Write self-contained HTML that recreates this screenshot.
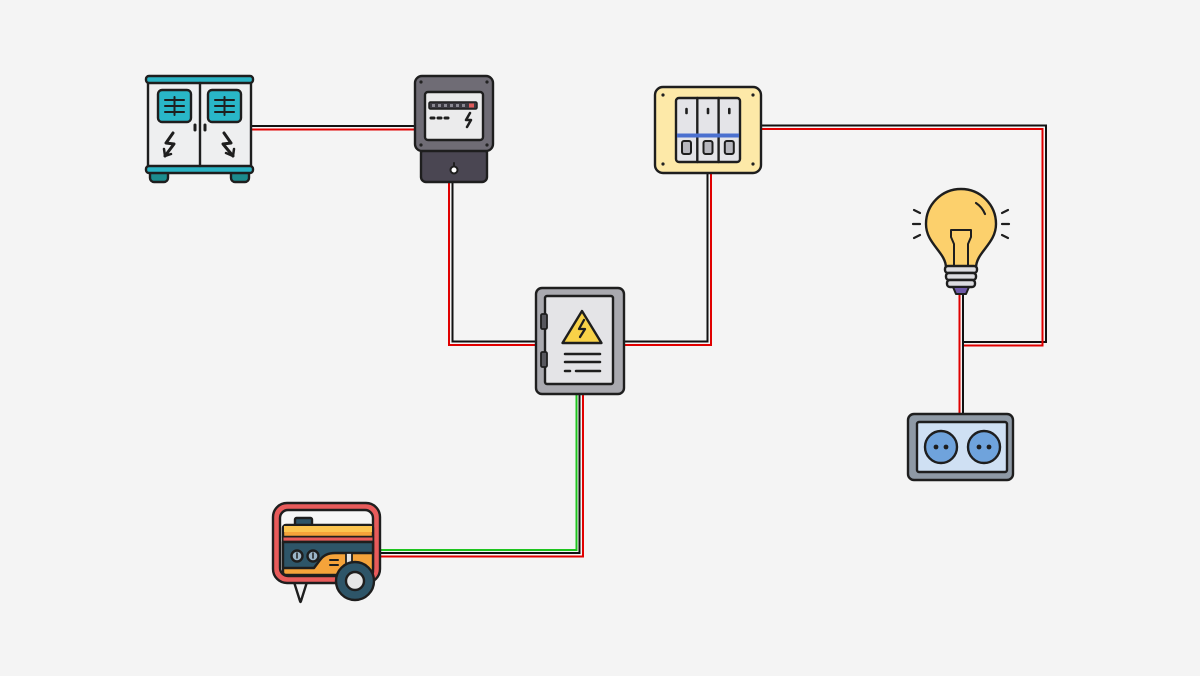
<!DOCTYPE html>
<html><head><meta charset="utf-8"><style>
html,body{margin:0;padding:0;background:#f4f4f4;}
svg{display:block;}
</style></head><body>
<svg width="1200" height="676" viewBox="0 0 1200 676" xmlns="http://www.w3.org/2000/svg">
<rect width="1200" height="676" fill="#f4f4f4"/>

<!-- WIRES -->
<g fill="none" stroke-width="2">
  <!-- cabinet -> meter -->
  <line x1="250" y1="126" x2="418" y2="126" stroke="#111"/>
  <line x1="250" y1="129.5" x2="418" y2="129.5" stroke="#e00000"/>
  <!-- meter -> panel -->
  <polyline points="452.5,180 452.5,341.5 540,341.5" stroke="#111"/>
  <polyline points="449,180 449,345 540,345" stroke="#e00000"/>
  <!-- panel -> breaker -->
  <polyline points="622,341.5 707.5,341.5 707.5,170" stroke="#111"/>
  <polyline points="622,345 711,345 711,170" stroke="#e00000"/>
  <!-- breaker -> right loop -->
  <polyline points="758,125.5 1046,125.5 1046,342 963,342" stroke="#111"/>
  <polyline points="758,129 1042.5,129 1042.5,345.5 963,345.5" stroke="#e00000"/>
  <!-- bulb -> socket -->
  <line x1="959.5" y1="294" x2="959.5" y2="416" stroke="#e00000"/>
  <line x1="963" y1="294" x2="963" y2="416" stroke="#111"/>
  <!-- generator -> panel -->
  <polyline points="376,550 576.5,550 576.5,391" stroke="#1ec41e"/>
  <polyline points="376,553 579.5,553 579.5,391" stroke="#111"/>
  <polyline points="376,556.5 583,556.5 583,391" stroke="#e00000"/>
</g>

<!-- CABINET -->
<g stroke="#1e1e1e" stroke-width="2.4" stroke-linejoin="round" stroke-linecap="round">
  <rect x="150" y="168" width="18" height="14" rx="4" fill="#1c8c8e"/>
  <rect x="231" y="168" width="18" height="14" rx="4" fill="#1c8c8e"/>
  <rect x="148" y="80" width="103" height="89" fill="#eeeff0"/>
  <rect x="146" y="76" width="107" height="7" rx="3" fill="#2ab3c4"/>
  <rect x="146" y="166" width="107" height="7" rx="3" fill="#2ab3c4"/>
  <line x1="200" y1="83" x2="200" y2="166"/>
  <rect x="158" y="90" width="33" height="32" rx="4" fill="#29b6c8"/>
  <rect x="208" y="90" width="33" height="32" rx="4" fill="#29b6c8"/>
  <g stroke-width="2">
    <line x1="165" y1="100" x2="184" y2="100"/><line x1="165" y1="106" x2="184" y2="106"/><line x1="165" y1="112" x2="184" y2="112"/>
    <line x1="174.5" y1="97" x2="174.5" y2="115"/>
    <line x1="215" y1="100" x2="234" y2="100"/><line x1="215" y1="106" x2="234" y2="106"/><line x1="215" y1="112" x2="234" y2="112"/>
    <line x1="224.5" y1="97" x2="224.5" y2="115"/>
  </g>
  <line x1="195" y1="125" x2="195" y2="130" stroke-width="3"/>
  <line x1="205" y1="125" x2="205" y2="130" stroke-width="3"/>
  <polyline points="173,133 166,143 174,144 165,156" fill="none" stroke-width="3"/>
  <polyline points="164,149 165,156 171,154" fill="none" stroke-width="2.5"/>
  <polyline points="224,133 231,143 223,144 233,156" fill="none" stroke-width="3"/>
  <polyline points="226,153 233,156 234,149" fill="none" stroke-width="2.5"/>
</g>

<!-- METER -->
<g stroke="#1e1e1e" stroke-width="2.4" stroke-linejoin="round" stroke-linecap="round">
  <rect x="421" y="148" width="66" height="34" rx="5" fill="#4a4652"/>
  <rect x="415" y="76" width="78" height="75" rx="7" fill="#6f6c75"/>
  <rect x="425" y="92" width="58" height="48" rx="3" fill="#ebebec"/>
  <rect x="429" y="102" width="48" height="7" rx="1.5" fill="#3a3840" stroke-width="1.5"/>
  <g stroke="none" fill="#8a8892">
    <rect x="432" y="104" width="3" height="3"/><rect x="438" y="104" width="3" height="3"/><rect x="444" y="104" width="3" height="3"/>
    <rect x="450" y="104" width="3" height="3"/><rect x="456" y="104" width="3" height="3"/><rect x="462" y="104" width="3" height="3"/>
    <rect x="469" y="103.5" width="5" height="4" fill="#e05a5a"/>
  </g>
  <g stroke-width="3"><line x1="431" y1="118" x2="434" y2="118"/><line x1="438" y1="118" x2="441" y2="118"/><line x1="445" y1="118" x2="448" y2="118"/></g>
  <polyline points="470,113 466,120 471,120 467,127" fill="none" stroke-width="2.5"/>
  <g stroke="none" fill="#222"><circle cx="421" cy="82" r="1.6"/><circle cx="487" cy="82" r="1.6"/><circle cx="421" cy="145" r="1.6"/><circle cx="487" cy="145" r="1.6"/></g>
  <circle cx="454" cy="170" r="3.5" fill="#fff" stroke-width="2"/>
  <line x1="454" y1="163" x2="454" y2="166" stroke-width="2"/>
</g>

<!-- BREAKER BOX -->
<g stroke="#1e1e1e" stroke-width="2.4" stroke-linejoin="round" stroke-linecap="round">
  <rect x="655" y="87" width="106" height="86" rx="8" fill="#fde9a8"/>
  <g stroke="none" fill="#222"><circle cx="663" cy="95" r="1.6"/><circle cx="753" cy="95" r="1.6"/><circle cx="663" cy="164" r="1.6"/><circle cx="753" cy="164" r="1.6"/></g>
  <rect x="676" y="98" width="64" height="64" rx="3" fill="#e4e4e8"/>
  <line x1="697.3" y1="98" x2="697.3" y2="162"/>
  <line x1="718.6" y1="98" x2="718.6" y2="162"/>
  <rect x="677" y="133.5" width="62" height="4" fill="#4b70cf" stroke="none"/>
  <g stroke-width="2.6"><line x1="686.5" y1="109" x2="686.5" y2="113"/><line x1="708" y1="109" x2="708" y2="113"/><line x1="729.3" y1="109" x2="729.3" y2="113"/></g>
  <g fill="#b7b7be" stroke-width="2"><rect x="682" y="141" width="9" height="13" rx="2"/><rect x="703.5" y="141" width="9" height="13" rx="2"/><rect x="724.8" y="141" width="9" height="13" rx="2"/></g>
</g>

<!-- DISTRIBUTION PANEL -->
<g stroke="#1e1e1e" stroke-width="2.4" stroke-linejoin="round" stroke-linecap="round">
  <rect x="536" y="288" width="88" height="106" rx="6" fill="#a9a9af"/>
  <rect x="545" y="296" width="68" height="88" rx="2" fill="#e4e4e7"/>
  <rect x="541" y="314" width="6" height="15" rx="1.5" fill="#58585e" stroke-width="1.8"/>
  <rect x="541" y="352" width="6" height="15" rx="1.5" fill="#58585e" stroke-width="1.8"/>
  <path d="M582,311 L601.5,343 L562.5,343 Z" fill="#f8d248"/>
  <polyline points="584,320 579,329 585,329 580,337" fill="none" stroke-width="2.3"/>
  <g stroke-width="2.5">
    <line x1="565" y1="354" x2="600" y2="354"/>
    <line x1="565" y1="362" x2="600" y2="362"/>
    <line x1="565" y1="371" x2="570" y2="371"/>
    <line x1="576" y1="371" x2="600" y2="371"/>
  </g>
</g>

<!-- LIGHT BULB -->
<g stroke="#1e1e1e" stroke-width="2.4" stroke-linejoin="round" stroke-linecap="round">
  <path d="M946,268 C946,252 926,244 926,224 A35,35 0 1 1 996,224 C996,244 976,252 976,268 Z" fill="#fcd06c"/>
  <path d="M976,203 A24,24 0 0 1 985,214" fill="none" stroke-width="2.2"/>
  <path d="M954,266 L954,244 L951,237 L951,230 L971,230 L971,237 L968,244 L968,266" fill="none" stroke-width="2"/>
  <rect x="945" y="266" width="32" height="7" rx="3" fill="#dcdce0"/>
  <rect x="946" y="273" width="30" height="7" rx="3" fill="#dcdce0"/>
  <rect x="947" y="280" width="28" height="7" rx="3" fill="#dcdce0"/>
  <path d="M953,287 L969,287 L966,294 L956,294 Z" fill="#6e5aa8" stroke-width="2"/>
  <g stroke-width="2.2">
    <line x1="914" y1="210" x2="920" y2="213"/>
    <line x1="913" y1="224" x2="920" y2="224"/>
    <line x1="914" y1="238" x2="920" y2="235"/>
    <line x1="1002" y1="213" x2="1008" y2="210"/>
    <line x1="1002" y1="224" x2="1009" y2="224"/>
    <line x1="1002" y1="235" x2="1008" y2="238"/>
  </g>
</g>

<!-- SOCKET -->
<g stroke="#1e1e1e" stroke-width="2.4" stroke-linejoin="round">
  <rect x="908" y="414" width="105" height="66" rx="6" fill="#8e99a5"/>
  <rect x="917" y="422" width="90" height="50" rx="2" fill="#cfe0f3"/>
  <circle cx="941" cy="447" r="16" fill="#6fa3dc"/>
  <circle cx="984" cy="447" r="16" fill="#6fa3dc"/>
  <g stroke="none" fill="#1e1e1e"><circle cx="936" cy="447" r="2.4"/><circle cx="946" cy="447" r="2.4"/><circle cx="979" cy="447" r="2.4"/><circle cx="989" cy="447" r="2.4"/></g>
</g>

<!-- GENERATOR -->
<g stroke="#1e1e1e" stroke-width="2.4" stroke-linejoin="round" stroke-linecap="round">
  <path d="M294,582 L307,582 L301,601 Q300.5,603 300,601 Z" fill="#f2f2f2"/>
  <rect x="273" y="503" width="107" height="80" rx="14" fill="#e85b5b"/>
  <rect x="280" y="510" width="93" height="66" rx="8" fill="#f6f6f6"/>
  <rect x="295" y="518" width="17" height="8" rx="1.5" fill="#2e5568"/>
  <rect x="283" y="525" width="90" height="50" rx="3" fill="#f5a33a"/>
  <rect x="284" y="526" width="88" height="6" fill="#fbc44f" stroke="none"/>
  <line x1="283" y1="537" x2="373" y2="537"/>
  <rect x="283.5" y="537.5" width="89" height="4" fill="#e85b5b" stroke="none"/>
  <line x1="283" y1="542" x2="373" y2="542"/>
  <path d="M283,542 L373,542 L373,553 L335,553 Q325,553 320,560 L314,568 L283,568 Z" fill="#2e5568"/>
  <circle cx="297" cy="556" r="5.5" fill="#9cb6c9"/>
  <circle cx="313" cy="556" r="5.5" fill="#9cb6c9"/>
  <line x1="297" y1="553" x2="297" y2="558" stroke-width="1.5"/>
  <line x1="313" y1="553" x2="313" y2="558" stroke-width="1.5"/>
  <g stroke-width="2"><line x1="330" y1="560" x2="338" y2="560"/><line x1="330" y1="565" x2="338" y2="565"/></g>
  <rect x="346" y="553" width="6" height="12" fill="#e4e4e4" stroke-width="1.8"/>
  <circle cx="355" cy="581" r="19" fill="#2e5568"/>
  <circle cx="355" cy="581" r="9" fill="#e6e6e6"/>
</g>
</svg>
</body></html>
